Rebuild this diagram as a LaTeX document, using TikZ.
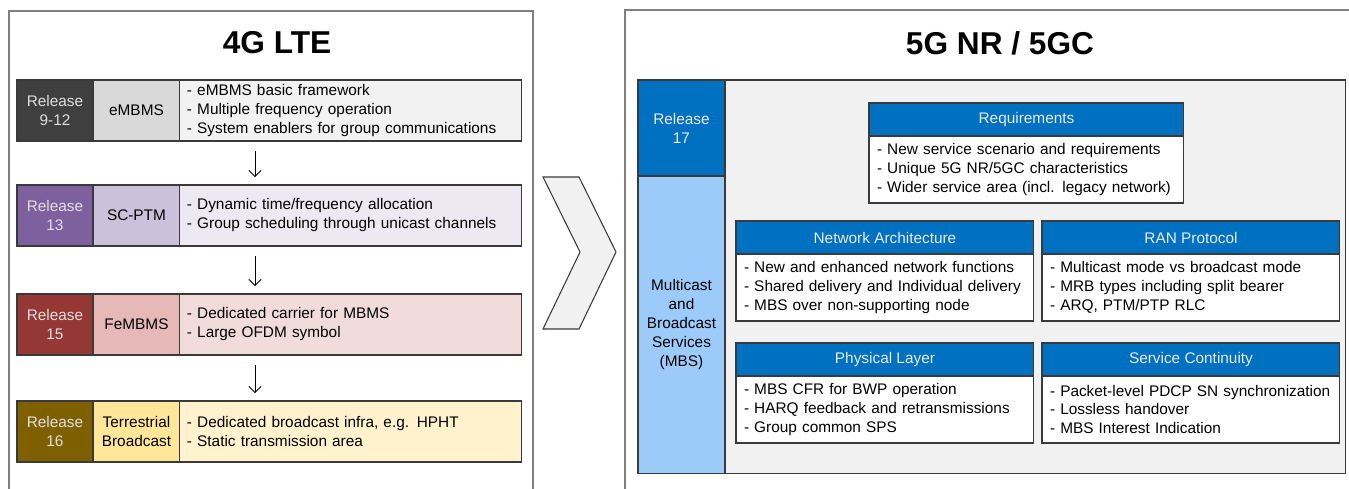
\documentclass[tikz,border=0pt]{standalone}
\usepackage{fontspec}
\setmainfont{Liberation Sans}
\usetikzlibrary{positioning,arrows.meta}
\definecolor{frameGray}{HTML}{808080}
\definecolor{cellLine}{HTML}{3A3A3A}
\definecolor{relGray}{HTML}{3F3F3F}
\definecolor{nameGray}{HTML}{D9D9D9}
\definecolor{descGray}{HTML}{F2F2F2}
\definecolor{relPurple}{HTML}{7F609F}
\definecolor{namePurple}{HTML}{CCC1DA}
\definecolor{descPurple}{HTML}{ECE9F2}
\definecolor{relRed}{HTML}{953735}
\definecolor{nameRed}{HTML}{E6B9B8}
\definecolor{descRed}{HTML}{F2DCDB}
\definecolor{relGold}{HTML}{7F6000}
\definecolor{nameGold}{HTML}{FFE699}
\definecolor{descGold}{HTML}{FFF2CC}
\definecolor{nrBlue}{HTML}{0070C0}
\definecolor{mbsBlue}{HTML}{9CCBFA}
\definecolor{panelGray}{HTML}{F1F1F1}

\begin{document}
\begin{tikzpicture}[x=0.02cm,y=-0.02cm,
	every node/.style={inner sep=0pt, outer sep=0pt, font=\fontsize{8.75}{10.8}\selectfont},
	frame/.style={draw=frameGray, line width=0.8pt},
	heading/.style={font=\fontsize{18}{21}\selectfont\bfseries},
	cell/.style={draw=cellLine, line width=0.6pt, minimum height=1.22cm, align=center},
	relcell/.style={cell, minimum width=1.52cm, text=white!88!black},
	namecell/.style={cell, minimum width=1.74cm},
	desccell/.style={cell, text width=6.56cm, inner xsep=0.14cm, align=left},
	flow/.style={-{Straight Barb[length=3.5pt,width=7pt]}, line width=0.5pt, shorten <=0.2cm, shorten >=0.16cm},
	hdr/.style={draw=cellLine, line width=0.6pt, fill=nrBlue, text=white!92!black, minimum height=0.66cm},
	body/.style={draw=cellLine, line width=0.6pt, fill=white, minimum height=1.34cm, inner xsep=0.16cm, align=left}
	]
	\useasboundingbox (0,0) rectangle (1349,488);
	\clip (0,0) rectangle (1349,488);

	% 4G LTE side
	\draw [frame, fill=white] (9,11) rectangle (533,500);
	\node [heading] (t4g) at (277,43) {4G LTE};

	\node [relcell, fill=relGray, anchor=north west] (r1rel) at (17,80) {Release\\9-12};
	\node [namecell, fill=nameGray, right=0pt of r1rel] (r1name) {eMBMS};
	\node [desccell, fill=descGray, right=0pt of r1name] (r1desc) {- eMBMS basic framework\\- Multiple frequency operation\\- System enablers for group communications};

	\node [relcell, fill=relPurple, anchor=north west] (r2rel) at (17,185) {Release\\13};
	\node [namecell, fill=namePurple, right=0pt of r2rel] (r2name) {SC-PTM};
	\node [desccell, fill=descPurple, right=0pt of r2name] (r2desc) {- Dynamic time/frequency allocation\\- Group scheduling through unicast channels};

	\node [relcell, fill=relRed, anchor=north west] (r3rel) at (17,294) {Release\\15};
	\node [namecell, fill=nameRed, right=0pt of r3rel] (r3name) {FeMBMS};
	\node [desccell, fill=descRed, right=0pt of r3name] (r3desc) {- Dedicated carrier for MBMS\\- Large OFDM symbol};

	\node [relcell, fill=relGold, anchor=north west] (r4rel) at (17,401) {Release\\16};
	\node [namecell, fill=nameGold, right=0pt of r4rel] (r4name) {Terrestrial\\Broadcast};
	\node [desccell, fill=descGold, right=0pt of r4name] (r4desc) {- Dedicated broadcast infra, e.g. HPHT\\- Static transmission area};

	\coordinate (ax) at (255,0);
	\draw [flow] (ax |- r1desc.south) -- (ax |- r2desc.north);
	\draw [flow] (ax |- r2desc.south) -- (ax |- r3desc.north);
	\draw [flow] (ax |- r3desc.south) -- (ax |- r4desc.north);

	% chevron
	\draw [draw=cellLine, line width=0.6pt, fill=panelGray] (543,177) -- (579,177) -- (616,252) -- (579,329) -- (543,329) -- (580,252) -- cycle;

	% 5G NR / 5GC side
	\draw [frame, fill=white] (625,10) rectangle (1362,500);
	\node [heading] (t5g) at (1000,43) {5G NR / 5GC};

	\node [draw=cellLine, line width=0.6pt, fill=panelGray, minimum width=14.16cm, minimum height=7.88cm, anchor=north west] (panel) at (638,80) {};
	\node [draw=cellLine, line width=0.6pt, fill=nrBlue, text=white!92!black, minimum width=1.74cm, minimum height=1.92cm, align=center, anchor=north west] (rel17) at (638,80) {Release\\17};
	\node [draw=cellLine, line width=0.6pt, fill=mbsBlue, minimum width=1.74cm, minimum height=5.96cm, align=center, below=0pt of rel17] (mbs) {Multicast\\and\\Broadcast\\Services\\(MBS)};

	\node [hdr, minimum width=6.3cm, anchor=north west] (reqhdr) at (869,103) {Requirements};
	\node [body, text width=5.98cm, below=0pt of reqhdr] (reqbody) {- New service scenario and requirements\\- Unique 5G NR/5GC characteristics\\- Wider service area (incl. legacy network)};

	\node [hdr, minimum width=5.96cm, anchor=north west] (archhdr) at (736,221) {Network Architecture};
	\node [body, text width=5.64cm, below=0pt of archhdr] (archbody) {- New and enhanced network functions\\- Shared delivery and Individual delivery\\- MBS over non-supporting node};

	\node [hdr, minimum width=5.96cm, anchor=north west] (ranhdr) at (1042,221) {RAN Protocol};
	\node [body, text width=5.64cm, below=0pt of ranhdr] (ranbody) {- Multicast mode vs broadcast mode\\- MRB types including split bearer\\- ARQ, PTM/PTP RLC};

	\node [hdr, minimum width=5.96cm, anchor=north west] (phyhdr) at (736,343) {Physical Layer};
	\node [body, text width=5.64cm, below=0pt of phyhdr] (phybody) {- MBS CFR for BWP operation\\- HARQ feedback and retransmissions\\- Group common SPS};

	\node [hdr, minimum width=5.96cm, anchor=north west] (conthdr) at (1042,343) {Service Continuity};
	\node [body, text width=5.64cm, below=0pt of conthdr] (contbody) {- Packet-level PDCP SN synchronization\\- Lossless handover\\- MBS Interest Indication};
\end{tikzpicture}
\end{document}
